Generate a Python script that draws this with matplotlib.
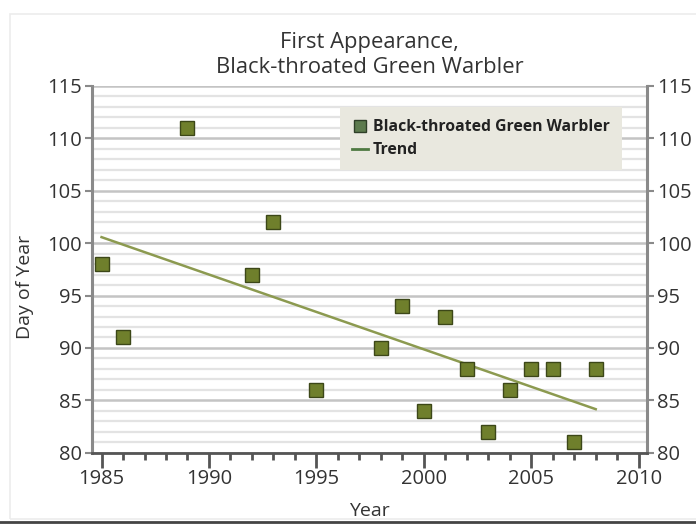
import matplotlib
matplotlib.use("Agg")
import matplotlib.pyplot as plt
import numpy as np
from matplotlib.ticker import MultipleLocator
from matplotlib.lines import Line2D
from matplotlib.patches import Rectangle

years = [1985, 1986, 1989, 1992, 1993, 1995, 1998, 1999, 2000, 2001,
         2002, 2003, 2004, 2005, 2006, 2007, 2008]
days = [98, 91, 111, 97, 102, 86, 90, 94, 84, 93,
        88, 82, 86, 88, 88, 81, 88]
series_label = "Black-throated Green Warbler"
trend_label = "Trend"
title = "First Appearance,\nBlack-throated Green Warbler"

plt.rcParams['font.family'] = ['Open Sans', 'DejaVu Sans']

fig = plt.figure(figsize=(6.96, 5.25), dpi=100)

fig.add_artist(Rectangle((0.014, 0.012), 1.0, 0.962, transform=fig.transFigure,
                         facecolor='none', edgecolor='#ececec', linewidth=1.2))

ax = fig.add_axes([0.132, 0.1377, 0.798, 0.6985])

ax.set_xlim(1984.55, 2010.4)
ax.set_ylim(80, 115)

ax.yaxis.set_major_locator(MultipleLocator(5))
ax.yaxis.set_minor_locator(MultipleLocator(1))
ax.xaxis.set_major_locator(MultipleLocator(5))
ax.xaxis.set_minor_locator(MultipleLocator(1))
ax.grid(axis='y', which='minor', color='#e3e3e3', linewidth=1.6)
ax.grid(axis='y', which='major', color='#c4c4c4', linewidth=1.8)
ax.grid(axis='x', which='both', visible=False)
ax.set_axisbelow(True)

coef = np.polyfit(years, days, 1)
tx = np.array([years[0], years[-1]])
ax.plot(tx, np.polyval(coef, tx), color='#8c9a50', linewidth=1.8, zorder=3)

ax.plot(years, days, linestyle='none', marker='s', markersize=10.5,
        markerfacecolor='#6f7f2c', markeredgecolor='#3c4718',
        markeredgewidth=1.0, zorder=4)

ax.spines['top'].set_visible(False)
ax.spines['left'].set_color('#8a8a8a')
ax.spines['left'].set_linewidth(2.2)
ax.spines['right'].set_color('#8a8a8a')
ax.spines['right'].set_linewidth(2.2)
ax.spines['bottom'].set_color('#555555')
ax.spines['bottom'].set_linewidth(2.0)

ax.tick_params(axis='x', which='major', direction='out', length=11, width=2,
               color='#555555', labelsize=14.5, pad=1, labelcolor='#333333')
ax.tick_params(axis='x', which='minor', direction='out', length=5, width=2,
               color='#555555')
ax.tick_params(axis='y', which='major', direction='out', length=5, width=1.5,
               color='#8a8a8a', labelsize=14.5, pad=2, labelcolor='#333333',
               left=True, right=True, labelleft=True, labelright=True)
ax.tick_params(axis='y', which='minor', length=0)

ax.set_xlabel("Year", fontsize=14, color='#333333')
ax.xaxis.set_label_coords(0.5, -0.135)
ax.set_ylabel("Day of Year", fontsize=14, color='#333333')
ax.yaxis.set_label_coords(-0.105, 0.453)
ax.set_title(title, fontsize=15.8, color='#333333', pad=9, linespacing=1.25)

handles = [
    Line2D([], [], linestyle='none', marker='s', markersize=9,
           markerfacecolor='#5d7b4e', markeredgecolor='#2f3f28'),
    Line2D([], [], color='#4f7a42', linewidth=2),
]
leg = ax.legend(handles, [series_label, trend_label], loc='upper left',
                bbox_to_anchor=(0.447, 0.942), frameon=True, fancybox=False,
                facecolor='#e9e8df', edgecolor='none', framealpha=1,
                prop={'weight': 'bold', 'size': 11.3, 'family': ['Open Sans']},
                handlelength=1.0, handletextpad=0.35, borderpad=0.75,
                labelspacing=0.45, borderaxespad=0)
for t in leg.get_texts():
    t.set_color('#222222')

fig.add_artist(Line2D([0.0, 1.0], [0.006, 0.006], color='#444444',
                      linewidth=2, transform=fig.transFigure))

fig.savefig("out.png", dpi=100)
